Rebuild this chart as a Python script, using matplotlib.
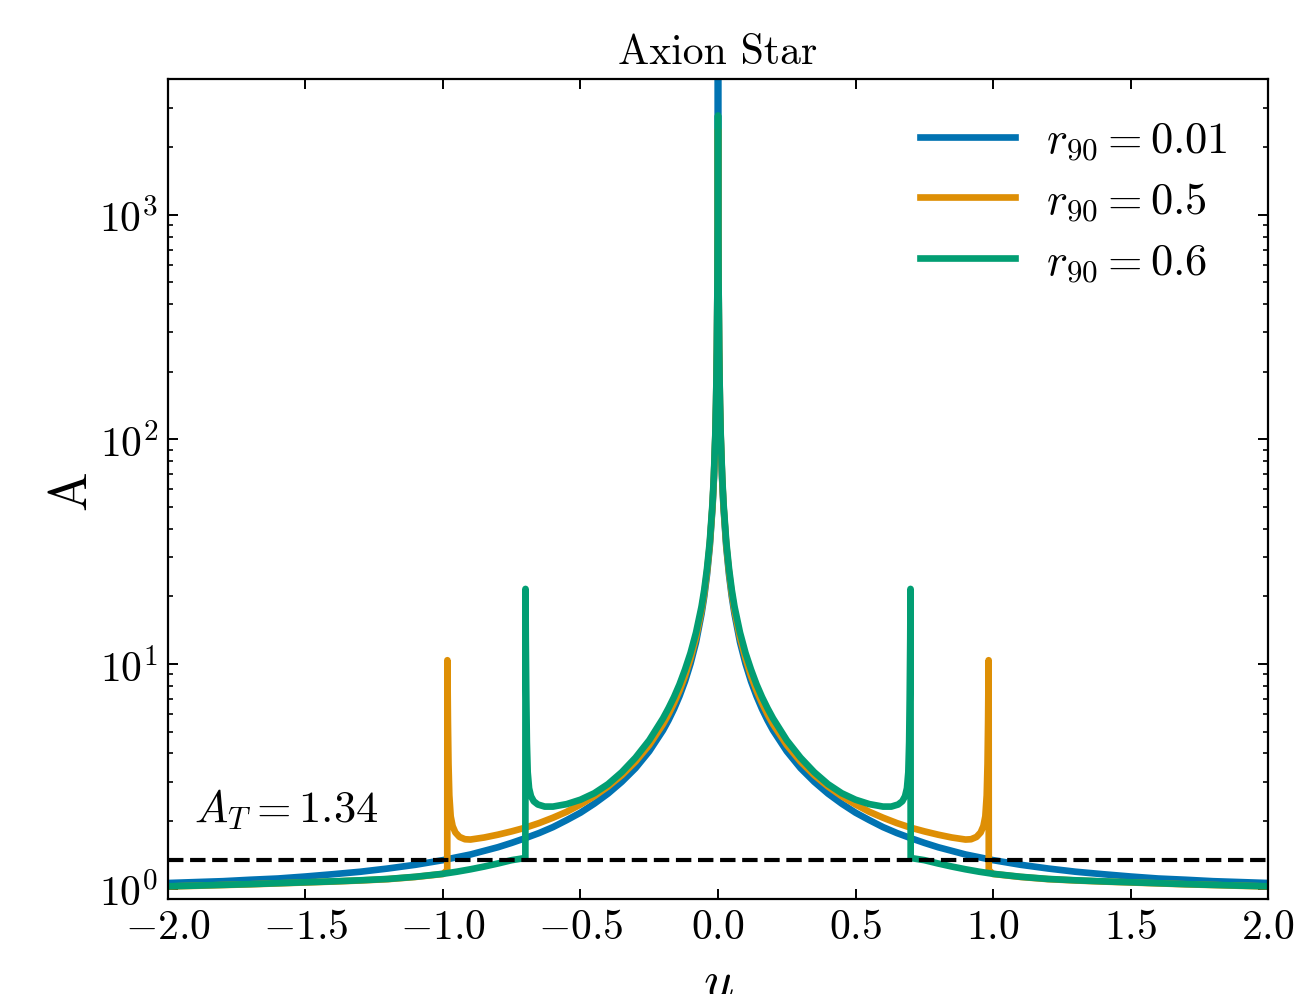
import numpy as np
import matplotlib
matplotlib.use("Agg")
import matplotlib.pyplot as plt

#fonts to look like LaTeX computer modern
plt.rcParams['font.family'] = 'serif'
plt.rcParams['font.serif'] = ['cmr10', 'DejaVu Serif']
plt.rcParams['mathtext.fontset'] = 'cm'
plt.rcParams['axes.formatter.use_mathtext'] = True
plt.rcParams['axes.unicode_minus'] = True

#values for u >= 0 (curves are symmetric about u = 0)
#r90 = 0.01
uBlue = [0.0, 0.001, 0.002, 0.004, 0.007, 0.01, 0.015, 0.02, 0.03, 0.04, 0.05,
         0.06, 0.08, 0.1, 0.12, 0.14, 0.16, 0.18, 0.2, 0.25, 0.3, 0.35, 0.4,
         0.45, 0.5, 0.55, 0.6, 0.65, 0.7, 0.75, 0.8, 0.85, 0.9, 0.95, 1.0,
         1.1, 1.2, 1.3, 1.4, 1.5, 1.6, 1.7, 1.8, 1.9, 2.0]
aBlue = [8000, 1000, 500, 250, 143, 100, 66.7, 50, 33.3, 25.0, 20.0,
         16.7, 12.5, 10.04, 8.38, 7.2, 6.31, 5.62, 5.07, 4.09, 3.44, 2.99, 2.65,
         2.39, 2.18, 2.02, 1.88, 1.77, 1.68, 1.60, 1.53, 1.474, 1.42, 1.38, 1.34,
         1.278, 1.23, 1.19, 1.16, 1.133, 1.11, 1.096, 1.08, 1.07, 1.06]

#r90 = 0.5
uOrange = [0.0, 0.001, 0.002, 0.004, 0.007, 0.01, 0.015, 0.02, 0.03, 0.04, 0.05,
           0.06, 0.08, 0.1, 0.12, 0.14, 0.16, 0.18, 0.2, 0.25, 0.3, 0.35, 0.4,
           0.45, 0.5, 0.55, 0.6, 0.65, 0.7, 0.75, 0.8, 0.85, 0.9, 0.92, 0.94,
           0.955, 0.965, 0.972, 0.977, 0.980, 0.982, 0.984, 0.9845,
           1.0, 1.1, 1.2, 1.3, 1.4, 1.5, 1.6, 1.7, 1.8, 1.9, 2.0]
aOrange = [2400, 1005, 503, 252, 144, 101, 67.5, 50.7, 34.0, 25.7, 20.6,
           17.3, 13.1, 10.6, 8.85, 7.62, 6.7, 5.98, 5.4, 4.36, 3.68, 3.2, 2.85,
           2.58, 2.37, 2.2, 2.07, 1.96, 1.87, 1.80, 1.74, 1.69, 1.655, 1.66, 1.70,
           1.78, 1.9, 2.1, 2.6, 3.6, 5.5, 10.4, 1.21,
           1.163, 1.128, 1.103, 1.088, 1.076, 1.066, 1.056, 1.046, 1.038, 1.030, 1.023]

#r90 = 0.6
uGreen = [0.0, 0.001, 0.002, 0.004, 0.007, 0.01, 0.015, 0.02, 0.03, 0.04, 0.05,
          0.06, 0.08, 0.1, 0.12, 0.14, 0.16, 0.18, 0.2, 0.25, 0.3, 0.35, 0.4,
          0.45, 0.5, 0.55, 0.6, 0.63, 0.655, 0.67, 0.68, 0.687, 0.692, 0.695,
          0.697, 0.699, 0.700, 0.7005,
          0.75, 0.8, 0.85, 0.9, 0.95, 1.0, 1.1, 1.2, 1.3, 1.4, 1.5, 1.6, 1.7,
          1.8, 1.9, 2.0]
aGreen = [2767, 1010, 510, 256, 147, 103, 69, 52, 35, 26.6, 21.4,
          18.0, 13.8, 11.2, 9.45, 8.12, 7.13, 6.36, 5.73, 4.58, 3.83, 3.30, 2.92,
          2.66, 2.49, 2.38, 2.32, 2.32, 2.37, 2.45, 2.58, 2.8, 3.3, 4.5,
          7.0, 13.0, 21.6, 1.37,
          1.34, 1.295, 1.255, 1.22, 1.19, 1.165, 1.13, 1.105, 1.09, 1.078, 1.068,
          1.058, 1.048, 1.04, 1.032, 1.025]

labels = [r'$r_{90} = 0.01$', r'$r_{90} = 0.5$', r'$r_{90} = 0.6$']
colors = ['#0173b2', '#de8f05', '#029e73']
A_T = 1.34


def mirror(u, a):
    """Assumes u starts at 0 and is increasing
       Returns u and a extended to negative u
    """
    u = np.asarray(u)
    a = np.asarray(a)
    uFull = np.concatenate([-u[::-1], u[1:]])
    aFull = np.concatenate([a[::-1], a[1:]])
    return uFull, aFull


fig = plt.figure(figsize=(6.475, 4.975), dpi=200)
ax = fig.add_axes([0.1297, 0.0955, 0.8495, 0.8236])

curves = [(uBlue, aBlue), (uOrange, aOrange), (uGreen, aGreen)]
for (u, a), lab, col in zip(curves, labels, colors):
    uu, aa = mirror(u, a)
    ax.plot(uu, aa, color=col, lw=2.4, label=lab)

ax.axhline(A_T, color='black', ls='--', lw=1.5)
ax.text(-1.905, 1.99, r'$A_T = %.2f$' % A_T, fontsize=16)

ax.set_yscale('log')
ax.set_xlim(-2, 2)
ax.set_ylim(0.9, 4000)
ax.set_xticks([-2.0, -1.5, -1.0, -0.5, 0.0, 0.5, 1.0, 1.5, 2.0])
ax.tick_params(which='both', direction='in', top=True, right=True, labelsize=15)
ax.tick_params(which='major', length=3.5, width=0.7)
ax.tick_params(which='minor', length=1.8, width=0.6)
for sp in ax.spines.values():
    sp.set_linewidth(0.8)

ax.set_title('Axion Star', fontsize=15)
ax.set_ylabel('A', fontsize=19, labelpad=1.5)
ax.set_xlabel(r'$u$', fontsize=19, labelpad=4.5)
ax.legend(loc='upper right', frameon=False, fontsize=16, handlelength=2.15,
          handletextpad=0.7, labelspacing=0.40)

fig.savefig('out.png', dpi=200)
